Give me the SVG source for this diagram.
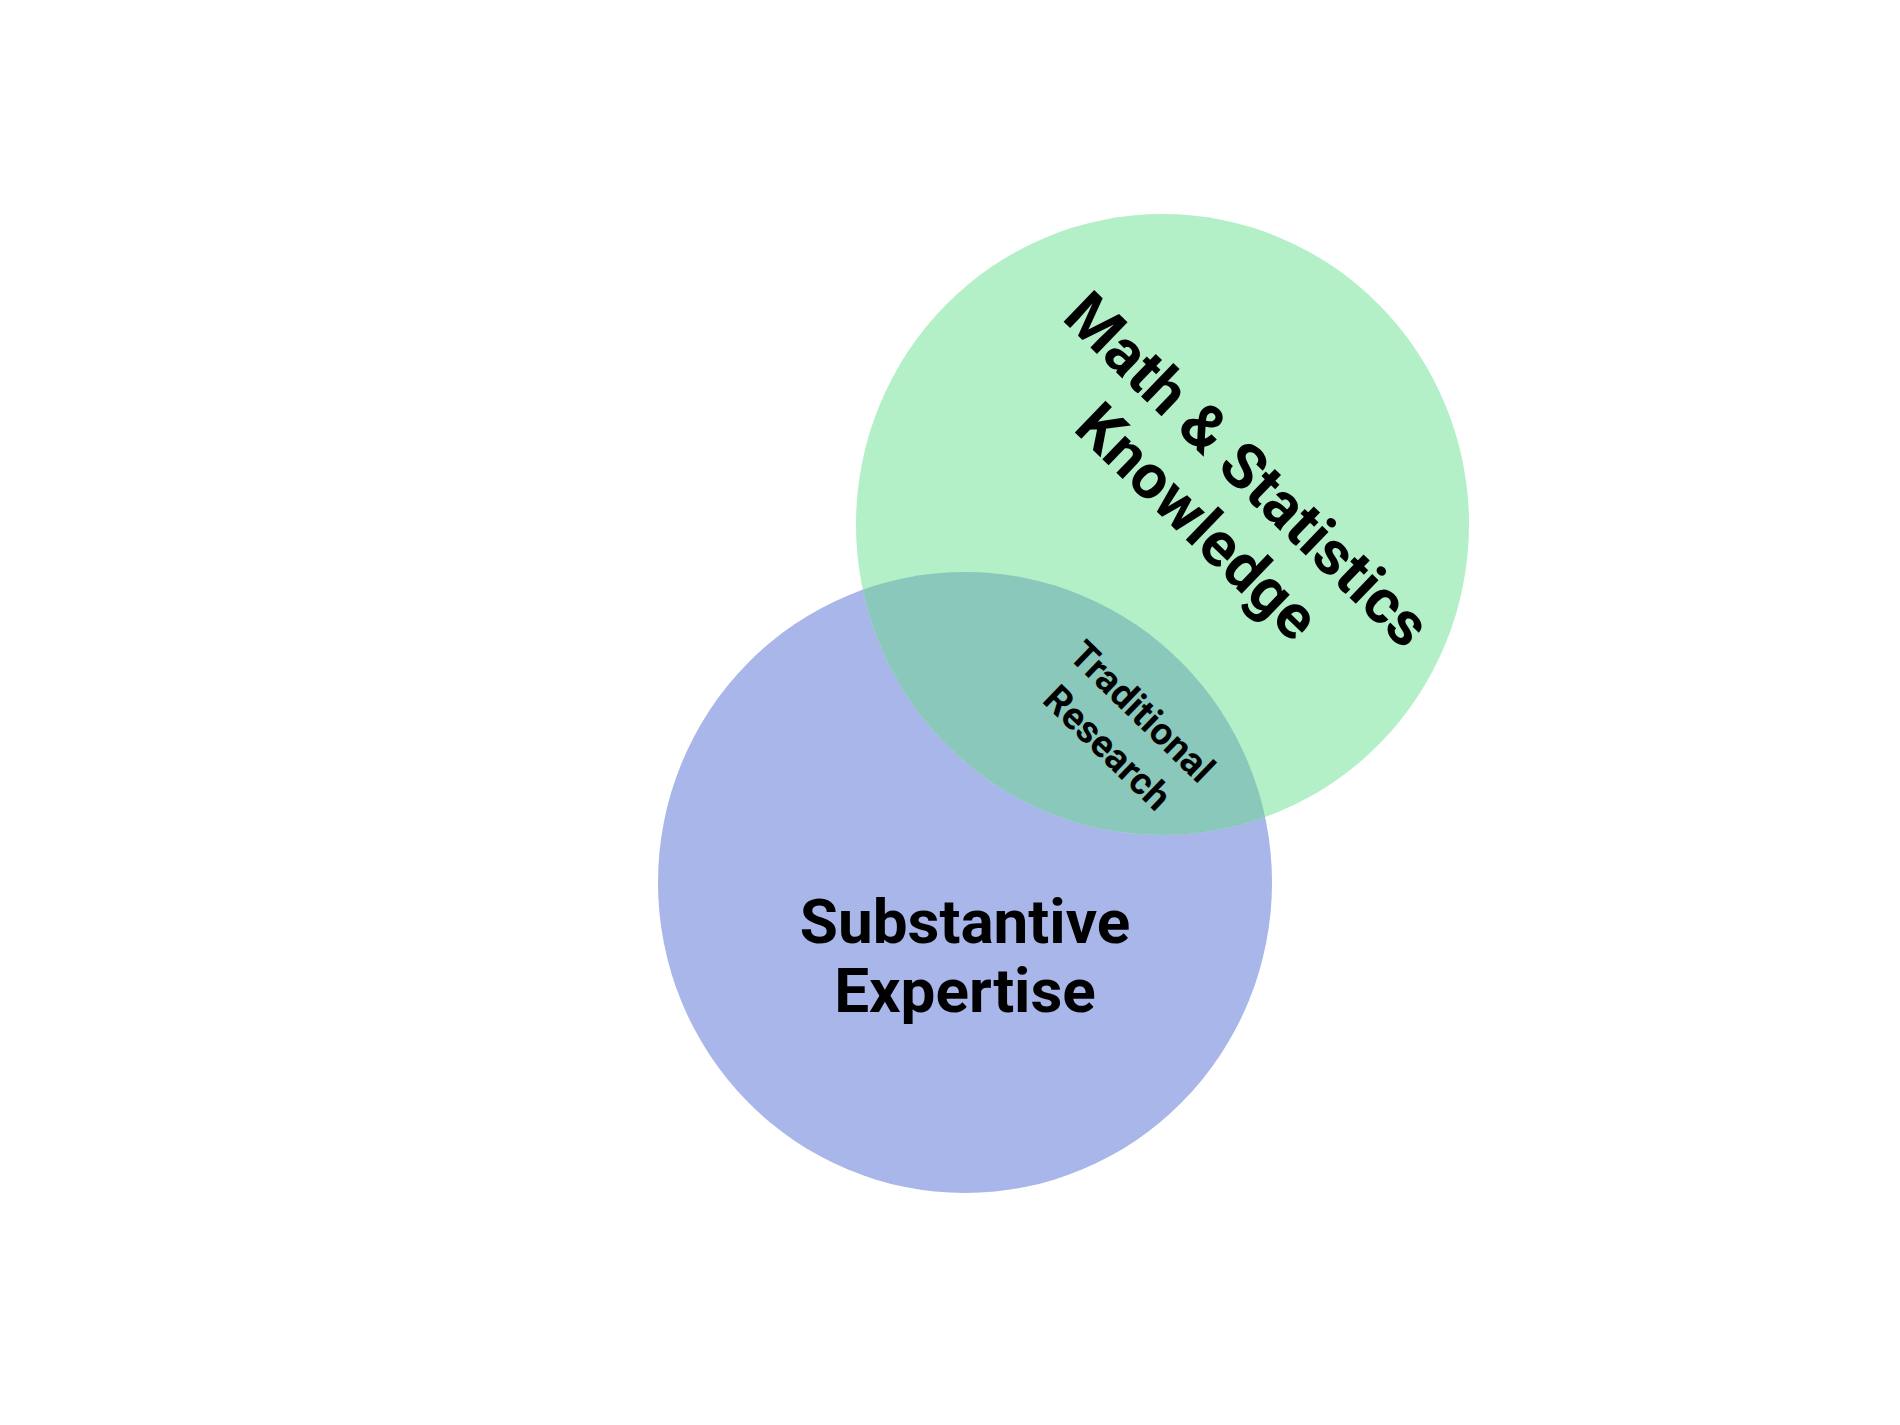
<svg xmlns="http://www.w3.org/2000/svg" width="1900" height="1425" viewBox="0 0 1900 1425">
<style>
.lbl{font-family:Roboto,"Liberation Sans",sans-serif;font-weight:700;fill:#000;text-anchor:middle}
.big{font-size:62px}
.small{font-size:38px}
</style>
<defs>
<clipPath id="clipBlue"><ellipse cx="965" cy="882.5" rx="307" ry="310.5"/></clipPath>
</defs>
<rect width="1900" height="1425" fill="#ffffff"/>
<g id="substantive">
<ellipse cx="965" cy="882.5" rx="307" ry="310.5" fill="#a8b6ea"/>
</g>
<g id="math">
<ellipse cx="1162.5" cy="524.5" rx="306.5" ry="310.5" fill="#b3efc7"/>
</g>
<g id="traditional">
<ellipse cx="1162.5" cy="524.5" rx="306.5" ry="310.5" fill="#8ac8bc" clip-path="url(#clipBlue)"/>
</g>
<g id="connectors"></g>
<g id="labels">
<text class="lbl big" x="965" y="943">Substantive</text>
<text class="lbl big" x="965" y="1012">Expertise</text>
<g transform="translate(1223,495) rotate(44)">
<text class="lbl big" x="0" y="-14">Math &amp; Statistics</text>
<text class="lbl big" x="0" y="58">Knowledge</text>
</g>
<g transform="translate(1125.5,729) rotate(44)">
<text class="lbl small" x="0" y="-11">Traditional</text>
<text class="lbl small" x="0" y="39">Research</text>
</g>
</g>
</svg>
